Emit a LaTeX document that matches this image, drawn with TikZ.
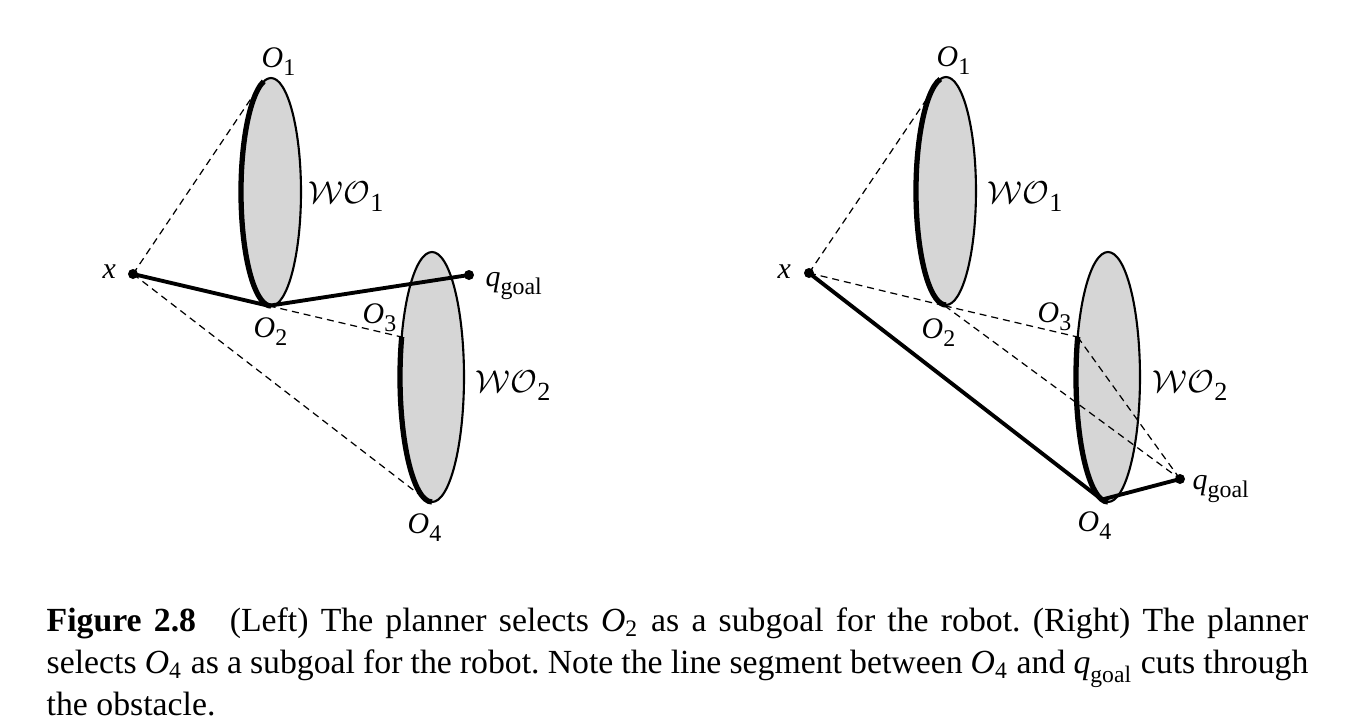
\documentclass[tikz,border=0pt]{standalone}
\usepackage{amsmath, amssymb}
\usepackage{graphicx}
\usepackage{fontspec}
\setmainfont{Liberation Serif}
\usepackage{tikz}
\usetikzlibrary{positioning}

\newcommand{\lsub}[1]{\raisebox{-0.27em}{\scalebox{0.8}{#1}}}
\newcommand{\Ob}[1]{\textit{O}\lsub{#1}}
\newcommand{\lblfont}{\fontsize{8.5}{10}\selectfont}
\newcommand{\wofont}{\fontsize{9.3}{11}\selectfont}

\tikzset{
  obstacle/.style={fill=black!16, draw=black, line width=0.6pt},
  seen/.style={line width=1.5pt},
  route/.style={line width=1.1pt},
  sight/.style={dash pattern=on 2pt off 1.4pt, line width=0.35pt},
  lbl/.style={anchor=base west, inner sep=0pt, font=\lblfont},
  wolbl/.style={anchor=base west, inner sep=0pt, font=\wofont}
}

\begin{document}
\begin{tikzpicture}[x=0.01cm, y=-0.01cm]
    \useasboundingbox (0,0) rectangle (1350,727);

    % Obstacles
    \foreach \cx/\cy/\rx/\ry in {271/192/30/114, 432/377/32/125, 946/191/30/114, 1108/377/32/125} {
      \filldraw[obstacle] (\cx,\cy) ellipse [x radius=\rx, y radius=\ry];
    }

    % Points of the left picture
    \coordinate (lx) at (133,274);
    \coordinate (lO1) at (259.5,86);
    \coordinate (lO2) at (268.7,305.8);
    \coordinate (lO3) at (401.7,337);
    \coordinate (lO4) at (425.8,499.6);
    \coordinate (lq) at (469,275);

    % Points of the right picture
    \coordinate (rx) at (809,273);
    \coordinate (rO1) at (935.5,86);
    \coordinate (rO2) at (944.7,305.8);
    \coordinate (rO3) at (1077.7,337);
    \coordinate (rO4) at (1101.8,499.6);
    \coordinate (rq) at (1180,479);

    % Lines of sight
    \draw[sight] (lx) -- (lO1);
    \draw[sight] (lx) -- (lO4);
    \draw[sight] (lO2) -- (lO3);
    \draw[sight] (rx) -- (rO1);
    \draw[sight] (rx) -- (rO2);
    \draw[sight] (rO2) -- (rO3);
    \draw[sight] (rO2) -- (rq);
    \draw[sight] (rO3) -- (rq);

    % Visible boundaries
    \draw[seen] (271,192) ++(256:30 and 114) arc[start angle=256, end angle=90, x radius=30, y radius=114];
    \draw[seen] (432,377) ++(198.7:32 and 125) arc[start angle=198.7, end angle=90, x radius=32, y radius=125];
    \draw[seen] (946,191) ++(259:30 and 114) arc[start angle=259, end angle=90, x radius=30, y radius=114];
    \draw[seen] (1108,377) ++(198.7:32 and 125) arc[start angle=198.7, end angle=90, x radius=32, y radius=125];

    % Paths of the robot
    \draw[route] (lx) -- (lO2) -- (lq);
    \draw[route] (rx) -- (rO4) -- (rq);
    \foreach \p in {lx, lq, rx, rq} {
      \fill (\p) circle (5);
    }

    % Labels
    \foreach \n/\x/\y/\t in {lO1l/261/67/{\Ob{1}}, lxl/102/278/{\textit{x}}, lO2l/253/337/{\Ob{2}},
                              lO3l/362/323/{\Ob{3}}, lql/485/286/{\textit{q}\lsub{goal}}, lO4l/407/533/{\Ob{4}},
                              rO1l/936/66/{\Ob{1}}, rxl/777/278/{\textit{x}}, rO2l/921/338/{\Ob{2}},
                              rO3l/1037/322/{\Ob{3}}, rql/1192/489/{\textit{q}\lsub{goal}}, rO4l/1077/531/{\Ob{4}}} {
      \node[lbl] (\n) at (\x,\y) {\t};
    }
    \foreach \n/\x/\y/\t in {lwo1/308/203/1, lwo2/475/392/2, rwo1/987/203/1, rwo2/1152/392/2} {
      \node[wolbl] (\n) at (\x,\y) {$\mathcal{WO}$\lsub{\t}};
    }

    % Caption
    \node[anchor=north west, inner sep=0pt, text width=12.61cm, align=justify,
          font=\fontsize{9.6}{11.95}\selectfont\frenchspacing] (caption) at (46,607)
      {\textbf{Figure 2.8}\quad (Left) The planner selects $\textit{O}_{\text{2}}$ as a subgoal for the robot. (Right) The planner
       selects $\textit{O}_{\text{4}}$ as a subgoal for the robot. Note the line segment between $\textit{O}_{\text{4}}$ and $\textit{q}_{\text{goal}}$ cuts through
       the obstacle.};
\end{tikzpicture}
\end{document}
